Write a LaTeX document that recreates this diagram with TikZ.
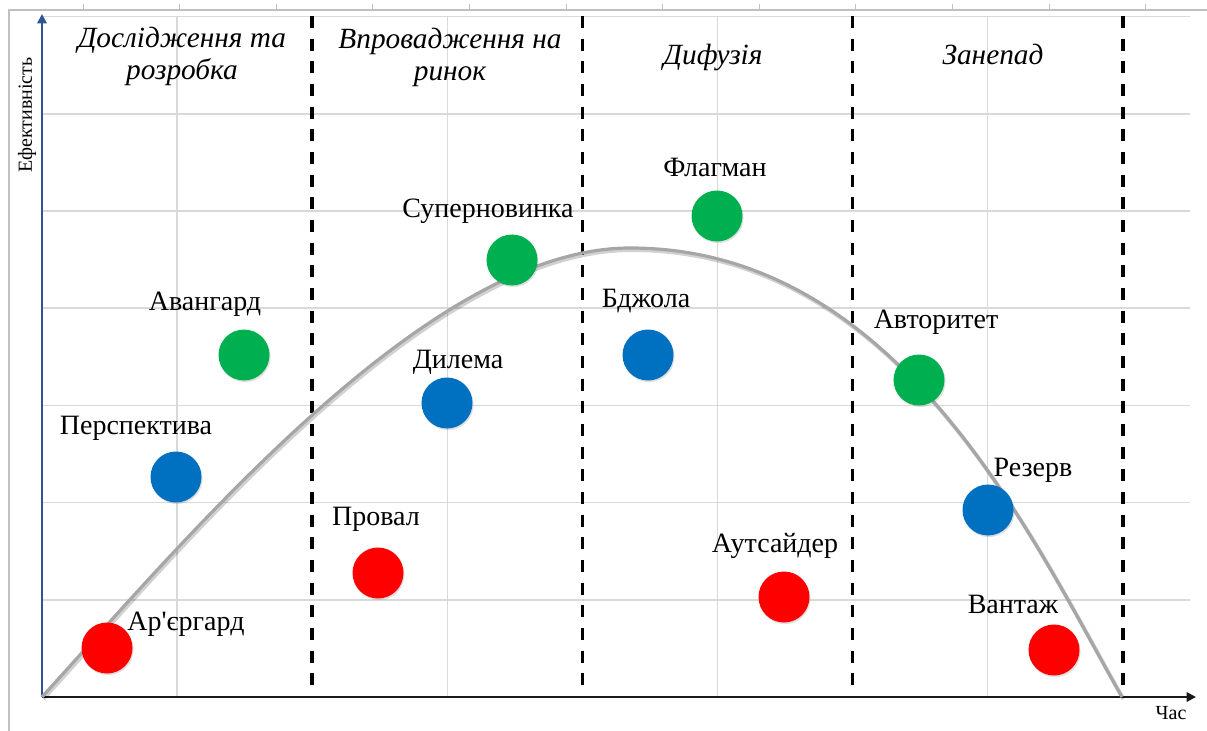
\documentclass[tikz,border=0pt]{standalone}
\usepackage{fontspec}
\setmainfont{Liberation Serif}
\newfontfamily\rawserif{Liberation Serif}
\usetikzlibrary{arrows.meta, shadows}
\definecolor{gridgray}{HTML}{D9D9D9}
\definecolor{framegray}{HTML}{C0C0C0}
\definecolor{axisblue}{HTML}{2F5496}
\definecolor{curvegray}{HTML}{A6A6A6}
\definecolor{dotred}{HTML}{FF0000}
\definecolor{dotgreen}{HTML}{00B050}
\definecolor{dotblue}{HTML}{0070C0}

\begin{document}
\begin{tikzpicture}[x=0.75pt, y=-0.75pt,
  dot/.style={circle, minimum size=38.25pt, inner sep=0pt,
              drop shadow={opacity=0.25, shadow xshift=0.8pt, shadow yshift=-1.2pt}},
  lbl/.style={anchor=base, inner sep=0pt, font=\fontsize{21}{24}\selectfont},
  stage/.style={anchor=base, inner sep=0pt, align=center,
                font=\fontsize{22}{24}\selectfont\itshape},
  gridline/.style={gridgray, line width=1.1pt},
  phaseline/.style={black, line width=2.8pt, dash pattern=on 9pt off 8pt},
  axisline/.style={line width=1.5pt, -{Triangle[length=7pt, width=7pt]}},
]
  \useasboundingbox (0,0) rectangle (1207,731);

  % sheet frame
  \draw[framegray, line width=1.5pt] (9,731) -- (9,10) -- (1207,10);
  \foreach \i in {0,...,11}
    \draw[framegray, line width=0.6pt] (83+96.6*\i,4) -- (83+96.6*\i,10);

  % grid
  \foreach \k in {1,...,7}
    \draw[gridline] (42,697-97.2*\k) -- (1190,697-97.2*\k);
  \foreach \k in {1,3,5,7}
    \draw[gridline] (42+135.1*\k,16) -- (42+135.1*\k,697);

  % phase borders
  \foreach \k in {2,4,6,8}
    \draw[phaseline] (42+135.1*\k,16) -- (42+135.1*\k,697);

  % axes
  \coordinate (o) at (42,697);
  \coordinate (ytop) at (42,14);
  \coordinate (xend) at (1196,697);
  \draw[axisline, axisblue] (o) -- (ytop);
  \draw[axisline, black!90] (o) -- (xend);
  \node[rotate=90, font=\fontsize{15}{17}\selectfont] (ylab) at (27,115) {Ефективність};
  \node[font=\fontsize{15}{17}\selectfont] (xlab) at (1171,713) {Час};

  % life cycle curve
  \def\lifecurve{(42,697) .. controls (192,532) and (430,248) .. (630,248)
      .. controls (900,248) and (1032,539) .. (1122,697)}
  \draw[black, opacity=0.18, line width=3pt, xshift=1pt, yshift=-1.5pt] \lifecurve;
  \draw[curvegray, line width=2.4pt] \lifecurve;

  % phase titles
  \node[stage] (rnd) at (182,80) {Дослідження та\\розробка};
  \node[stage] (intro) at (450,81) {Впровадження на\\ринок};
  \node[stage] (diff) at (713,65) {Дифузія};
  \node[stage] (decl) at (993,65) {Занепад};

  % products
  \node[dot, fill=dotred] (arrg) at (107,648) {};
  \node[lbl] (arrgl) at (186,630) {Ар{\rawserif '}єргард};
  \node[dot, fill=dotblue] (persp) at (176,477) {};
  \node[lbl] (perspl) at (136,434) {Перспектива};
  \node[dot, fill=dotgreen] (avang) at (244,355) {};
  \node[lbl] (avangl) at (205,310) {Авангард};

  \node[dot, fill=dotred] (prov) at (378,573) {};
  \node[lbl] (provl) at (376,525) {Провал};
  \node[dot, fill=dotblue] (dyl) at (447,403) {};
  \node[lbl] (dyll) at (458,368) {Дилема};
  \node[dot, fill=dotgreen] (supn) at (512,260) {};
  \node[lbl] (supnl) at (488,218) {Суперновинка};

  \node[dot, fill=dotblue] (bee) at (648,355) {};
  \node[lbl] (beel) at (646,307) {Бджола};
  \node[dot, fill=dotgreen] (flag) at (717,216) {};
  \node[lbl] (flagl) at (715,177) {Флагман};
  \node[dot, fill=dotred] (outs) at (784,597) {};
  \node[lbl] (outsl) at (775,552) {Аутсайдер};

  \node[dot, fill=dotgreen] (auth) at (919,380) {};
  \node[lbl] (authl) at (936,328) {Авторитет};
  \node[dot, fill=dotblue] (res) at (988,510) {};
  \node[lbl] (resl) at (1033,476) {Резерв};
  \node[dot, fill=dotred] (ball) at (1054,650) {};
  \node[lbl] (balll) at (1013,613) {Вантаж};
\end{tikzpicture}
\end{document}
